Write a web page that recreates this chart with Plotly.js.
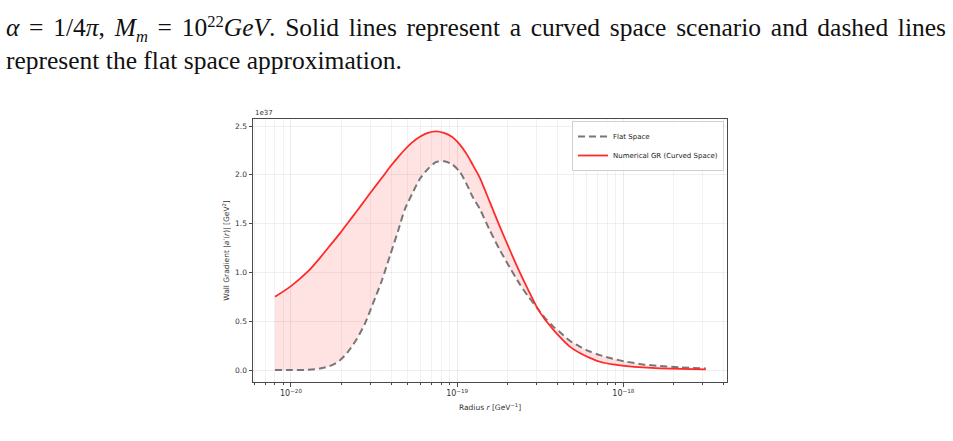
<!DOCTYPE html>
<html>
<head>
<meta charset="utf-8">
<script src="https://cdn.plot.ly/plotly-3.0.1.min.js"></script>
<style>
  html, body { margin: 0; padding: 0; background: #fff; }
  #page { position: relative; width: 953px; height: 441px; overflow: hidden; }
  #chart { position: absolute; left: 0; top: 0; width: 953px; height: 441px; }
  .txt { position: absolute; left: 6px; width: 940px; font-family: "Liberation Serif", "DejaVu Serif", serif;
         font-size: 25.5px; color: #111; white-space: nowrap; line-height: 28px; }
  #line1 { top: 14px; text-align: justify; text-align-last: justify; white-space: normal; }
  #line2 { top: 47px; }
  sub, sup { font-size: 65%; line-height: 0; }
</style>
</head>
<body>
<div id="page">
  <div id="chart"></div>
  <div class="txt" id="line1"><i>α</i> = 1/4<i>π</i>, <i>M<sub>m</sub></i> = 10<sup>22</sup><i>GeV</i>. Solid lines represent a curved space scenario and dashed lines</div>
  <div class="txt" id="line2">represent the flat space approximation.</div>
</div>
<script>
// Radius r in GeV^-1
const radius = [
  8.01e-21, 1.00e-20, 1.265e-20, 1.494e-20, 1.764e-20, 1.971e-20, 2.202e-20, 2.494e-20,
  2.786e-20, 3.112e-20, 3.526e-20, 3.939e-20, 4.400e-20, 4.849e-20, 5.341e-20, 5.967e-20,
  6.666e-20, 7.446e-20, 8.318e-20, 9.293e-20, 1.038e-19, 1.144e-19, 1.243e-19, 1.369e-19,
  1.573e-19, 1.806e-19, 2.075e-19, 2.382e-19, 2.661e-19, 3.015e-19, 3.368e-19, 3.763e-19,
  4.146e-19, 4.761e-19, 5.469e-19, 6.281e-19, 7.214e-19, 8.636e-19, 1.048e-18, 1.308e-18,
  1.655e-18, 2.184e-18, 3.13e-18
];

// Wall gradient |a'(r)| in units of 1e37 GeV^2, flat space approximation
const gradientFlat = [
  0.000, 0.000, 0.003, 0.015, 0.050, 0.100, 0.187, 0.320,
  0.476, 0.680, 0.920, 1.170, 1.420, 1.650, 1.800, 1.960,
  2.060, 2.130, 2.140, 2.110, 2.030, 1.900, 1.770, 1.650,
  1.430, 1.230, 1.050, 0.880, 0.760, 0.640, 0.535, 0.450,
  0.390, 0.300, 0.240, 0.190, 0.153, 0.115, 0.085, 0.058,
  0.041, 0.028, 0.017
];

// Wall gradient |a'(r)| in units of 1e37 GeV^2, numerical GR (curved space)
const gradientGR = [
  0.750, 0.860, 1.010, 1.150, 1.300, 1.400, 1.510, 1.630,
  1.740, 1.850, 1.970, 2.080, 2.180, 2.260, 2.330, 2.390,
  2.430, 2.445, 2.430, 2.390, 2.310, 2.210, 2.100, 1.970,
  1.720, 1.470, 1.230, 1.000, 0.830, 0.645, 0.520, 0.420,
  0.340, 0.240, 0.175, 0.125, 0.085, 0.058, 0.041, 0.027,
  0.017, 0.011, 0.007
];

const yTicks = [0, 0.5, 1.0, 1.5, 2.0, 2.5];
const yTickText = ['0.0', '0.5', '1.0', '1.5', '2.0', '2.5'];
const xTicks = [1e-20, 1e-19, 1e-18];
const xTickText = ['10<sup>−20</sup>', '10<sup>−19</sup>', '10<sup>−18</sup>'];

// minor log ticks 2..9 in every decade
const xMinor = [];
for (let e = -21; e <= -18; e++) {
  for (let m = 2; m <= 9; m++) xMinor.push(m * Math.pow(10, e));
}

const axisColor = '#4a4a4a';
const fontFamily = 'DejaVu Sans, sans-serif';
const smooth = { shape: 'spline', smoothing: 0.7 };

const traces = [
  // lower boundary of the shaded band
  { x: radius, y: gradientFlat, type: 'scatter', mode: 'lines',
    line: Object.assign({ width: 0, color: 'rgba(0,0,0,0)' }, smooth), showlegend: false, hoverinfo: 'skip' },
  // shaded region between the two solutions
  { x: radius, y: gradientGR, type: 'scatter', mode: 'lines', fill: 'tonexty',
    fillcolor: 'rgba(255,60,60,0.15)', line: Object.assign({ width: 0, color: 'rgba(0,0,0,0)' }, smooth),
    showlegend: false, hoverinfo: 'skip' },
  { x: radius, y: gradientFlat, type: 'scatter', mode: 'lines', name: 'Flat Space',
    line: Object.assign({ color: '#777777', width: 2, dash: '7px,4px' }, smooth) },
  { x: radius, y: gradientGR, type: 'scatter', mode: 'lines', name: 'Numerical GR (Curved Space)',
    line: Object.assign({ color: '#ff2a2a', width: 1.8 }, smooth) }
];

const layout = {
  width: 953, height: 441,
  margin: { l: 253, r: 226, t: 119, b: 59, pad: 0 },
  paper_bgcolor: 'rgba(0,0,0,0)',
  plot_bgcolor: '#ffffff',
  showlegend: true,
  font: { family: fontFamily, size: 7, color: '#333' },
  xaxis: {
    type: 'log',
    range: [-20.2285, -17.3764],
    tickmode: 'array', tickvals: xTicks, ticktext: xTickText,
    tickfont: { family: fontFamily, size: 8, color: '#333' },
    ticks: 'outside', ticklen: 3.5, tickwidth: 1, tickcolor: axisColor,
    showline: true, linecolor: axisColor, linewidth: 1, mirror: true,
    showgrid: true, gridcolor: 'rgba(0,0,0,0.08)', gridwidth: 1,
    minor: { tickmode: 'array', tickvals: xMinor, ticks: 'outside', ticklen: 2,
             tickcolor: axisColor, showgrid: true, gridcolor: 'rgba(0,0,0,0.05)' },
    zeroline: false,
    title: { text: 'Radius <i>r</i> [GeV<sup>−1</sup>]', font: { family: fontFamily, size: 7.5, color: '#333' }, standoff: 7 }
  },
  yaxis: {
    range: [-0.1225, 2.5725],
    tickmode: 'array', tickvals: yTicks, ticktext: yTickText,
    tickfont: { family: fontFamily, size: 7.5, color: '#333' },
    ticks: 'outside', ticklen: 3.5, tickwidth: 1, tickcolor: axisColor,
    showline: true, linecolor: axisColor, linewidth: 1, mirror: true,
    showgrid: true, gridcolor: 'rgba(0,0,0,0.06)', gridwidth: 1,
    zeroline: false,
    title: { text: 'Wall Gradient |<i>a</i>′(<i>r</i>)| [GeV<sup>2</sup>]', font: { family: fontFamily, size: 7.5, color: '#333' }, standoff: 4 }
  },
  legend: {
    x: 0.9937, xanchor: 'right', y: 0.9924, yanchor: 'top',
    traceorder: 'normal',
    bgcolor: 'rgba(255,255,255,0.9)', bordercolor: '#d0d0d0', borderwidth: 1,
    font: { family: fontFamily, size: 7, color: '#222' },
    tracegroupgap: 0, itemwidth: 30
  },
  annotations: [
    { text: '1e37', xref: 'paper', yref: 'paper', x: 0, y: 1, xanchor: 'left', yanchor: 'bottom',
      showarrow: false, font: { family: fontFamily, size: 7, color: '#333' } }
  ]
};

Plotly.newPlot('chart', traces, layout, { displayModeBar: false, staticPlot: true });
</script>
</body>
</html>
